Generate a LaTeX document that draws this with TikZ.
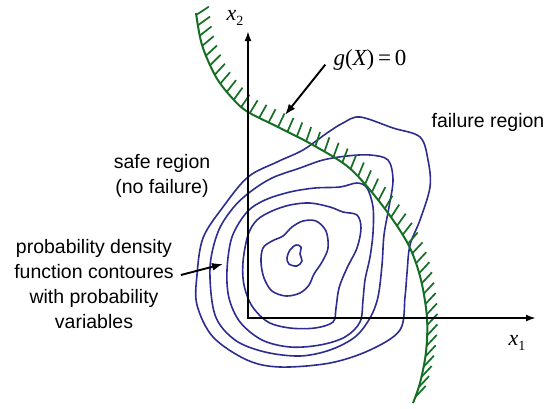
\documentclass[tikz,border=0pt]{standalone}
\usepackage{fontspec}
\setmainfont{Liberation Sans}
\newfontfamily\tmsfont{Liberation Serif}
\usetikzlibrary{arrows.meta,decorations.markings,calc}
\definecolor{contourblue}{RGB}{45,45,145}
\definecolor{limitgreen}{RGB}{20,110,35}
\begin{document}
\begin{tikzpicture}[x=1pt,y=-1pt,
  contourline/.style={draw=contourblue, line width=1.6pt, line join=round},
  axisline/.style={draw=black, line width=2.6pt, {Latex[length=10pt,width=7pt]}-{Latex[length=10pt,width=7pt]}},
  pointer/.style={draw=black, line width=1.9pt, -{Latex[length=11pt,width=8pt]}},
  lbl/.style={font=\fontsize{19.5}{25}\selectfont, align=center, inner sep=0pt},
  mathlbl/.style={font=\tmsfont, inner sep=0pt},
  limitline/.style={draw=limitgreen, line width=2pt,
    postaction={decorate, decoration={markings,
      mark=between positions 0.004 and 0.999 step 10.5pt with {
        \pgfmathsetmacro\hd{\pgfkeysvalueof{/pgf/decoration/mark info/distance from start}}
        \pgfmathsetmacro\ha{\hd<115 ? 33+25*\hd/115 : (\hd<188 ? 58+14*(\hd-115)/73 : (\hd<261 ? 72-6*(\hd-188)/73 : (\hd<332 ? 66-18*(\hd-261)/71 : 47)))}
        \pgftransformresetnontranslations
        \draw[limitgreen, line width=1.7pt] (0,0) -- (-\ha:15);
      }}}}
]
\useasboundingbox (0,0) rectangle (554,408);

% probability density contours
\draw[contourline] plot[smooth cycle, tension=0.55] coordinates {(197,275) (203,238) (223,207) (248,177) (277,162) (303,150) (327,133) (343,123) (360,117) (393,128) (420,137) (428,160) (430,187) (420,220) (410,245) (407,273) (405,297) (400,330) (370,350) (330,363) (280,367) (247,360) (213,337) (197,305)};
\draw[contourline] plot[smooth cycle, tension=0.55] coordinates {(210,268) (218,232) (233,208) (250,192) (272,178) (300,168) (323,160) (347,156) (370,155) (388,160) (393,180) (389,207) (384,235) (382,265) (378,297) (370,318) (355,337) (330,350) (300,356) (265,352) (235,340) (215,315)};
\draw[contourline] plot[smooth cycle, tension=0.55] coordinates {(227,270) (232,237) (247,212) (265,200) (290,192) (315,188) (340,187) (357,183) (367,188) (373,207) (373,233) (370,257) (365,280) (363,300) (360,322) (345,337) (320,345) (290,347) (262,340) (240,322) (229,298)};
\draw[contourline] plot[smooth cycle, tension=0.55] coordinates {(243,262) (248,235) (257,220) (272,211) (290,205) (310,203) (330,207) (343,212) (357,215) (361,228) (357,248) (347,268) (339,288) (336,308) (333,322) (315,328) (290,328) (268,322) (252,306) (244,285)};
\draw[contourline] plot[smooth cycle, tension=0.55] coordinates {(261,262) (263,248) (272,241) (283,236) (292,227) (303,221) (316,221) (326,231) (328,248) (322,262) (314,274) (309,285) (300,293) (286,296) (272,291) (264,278)};
\draw[contourline] plot[smooth cycle, tension=0.55] coordinates {(287,258) (290,250) (296,245) (301,247) (300,254) (302,261) (297,266) (289,264)};

% limit state function g(X)=0 with hatching
\draw[limitline] plot[smooth, tension=0.55] coordinates {(196,13) (202,45) (216,77) (233,99) (248,112) (280,128) (313,145) (347,166) (370,190) (393,220) (410,248) (421,280) (427,318) (426,352) (420,383) (413,403)};

% axes
\coordinate (O) at (248,318);
\coordinate (xend) at (536,318);
\coordinate (yend) at (248,31);
\draw[axisline] (yend) -- (O) -- (xend);
\node[mathlbl, font=\tmsfont\fontsize{22}{22}\selectfont] (x2lbl) at (235,18) {\itshape x\raisebox{-5pt}{\fontsize{14}{14}\selectfont\upshape 2}};
\node[mathlbl, font=\tmsfont\fontsize{22}{22}\selectfont] (x1lbl) at (517,343) {\itshape x\raisebox{-5pt}{\fontsize{14}{14}\selectfont\upshape 1}};

% labels
\node[mathlbl, font=\tmsfont\fontsize{23}{23}\selectfont] (glbl) at (370,60) {\itshape g\upshape(\itshape X\upshape)\,=\,0};
\coordinate (gtip) at (285,115);
\draw[pointer] ($(glbl.south west)+(-8,-6)$) -- (gtip);

\node[lbl] (failure) at (488,122) {failure region};
\node[lbl] (safe) at (162,176) {safe region\\(no failure)};
\node[lbl] (pdf) at (94,284) {probability density\\function contoures\\with probability\\variables};
\coordinate (pdftip) at (223,264);
\draw[pointer] ($(pdf.east)+(7,-9)$) -- (pdftip);
\end{tikzpicture}
\end{document}
